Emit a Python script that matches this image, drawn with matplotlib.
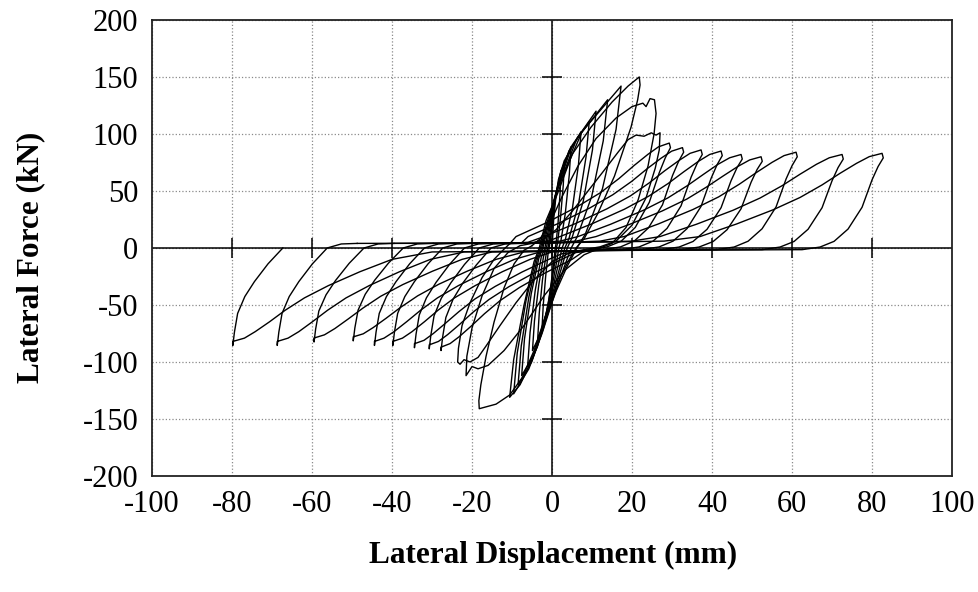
import matplotlib.pyplot as plt
import numpy as np

plt.rcParams['font.family'] = ['Liberation Serif', 'DejaVu Serif']
plt.rcParams['axes.unicode_minus'] = False

loop_01 = [(0, 0), (0.4, 25), (1.1, 50), (2.25, 68), (2.0, 48), (1.5, 22), (1.0, 4), (0.8, 0),
           (0.5, -10), (0, -25), (-0.8, -45), (-1.6, -60), (-2.5, -70), (-2.2, -50), (-1.6, -25),
           (-1.0, -5), (-0.7, 0)]
loop_02 = [(-0.7, 0), (-0.2, 14), (0.5, 35), (1.6, 60), (3.1, 77), (2.8, 55), (2.1, 26), (1.4, 5),
           (1.1, 0), (0.7, -12), (0, -28), (-1.0, -50), (-2.2, -68), (-3.6, -80), (-3.2, -57),
           (-2.4, -28), (-1.5, -6), (-1.0, 0)]
loop_03 = [(-1.0, 0), (-0.4, 15), (0.6, 40), (2.3, 68), (4.75, 89), (4.3, 64), (3.3, 30), (2.2, 6),
           (1.7, 0), (1.1, -13), (0.1, -32), (-1.3, -56), (-3.0, -76), (-4.9, -90), (-4.4, -64),
           (-3.3, -32), (-2.1, -7), (-1.4, 0)]
loop_04 = [(-1.4, 0), (-0.6, 17), (0.7, 44), (3.3, 78), (7.25, 102), (6.6, 73), (5.1, 35), (3.3, 7),
           (2.5, 0), (1.6, -14), (0.2, -35), (-1.6, -62), (-3.7, -87), (-6.1, -104), (-5.5, -74),
           (-4.2, -37), (-2.7, -8), (-1.8, 0)]
loop_05 = [(-1.8, 0), (-0.8, 18), (0.9, 47), (4.2, 85), (9.3, 111), (8.5, 80), (6.6, 38), (4.2, 8),
           (3.2, 0), (2.1, -15), (0.3, -38), (-2.0, -67), (-4.6, -94), (-7.6, -112), (-6.9, -80),
           (-5.2, -40), (-3.3, -9), (-2.3, 0)]
loop_06 = [(-2.3, 0), (-1.0, 19), (1.0, 49), (5.0, 90), (11.0, 120), (10.1, 86), (7.8, 41), (5.0, 9),
           (3.8, 0), (2.5, -16), (0.4, -40), (-2.2, -71), (-5.1, -100), (-8.5, -120), (-7.7, -86),
           (-5.8, -43), (-3.7, -10), (-2.6, 0)]
loop_07 = [(-2.6, 0), (-1.2, 20), (1.2, 50), (6.2, 96), (13.9, 130), (12.8, 94), (9.9, 45), (6.3, 10),
           (4.8, 0), (3.0, -17), (0.5, -42), (-2.5, -75), (-5.8, -106), (-9.6, -128), (-8.7, -92),
           (-6.5, -46), (-4.1, -11), (-2.9, 0)]
loop_08 = [(-2.9, 0), (-1.3, 22), (1.4, 52), (7.5, 102), (17.25, 142), (16.0, 104), (12.6, 52),
           (8.3, 12), (6.2, 0), (3.8, -16), (1.0, -38), (-1.8, -65), (-5.0, -98), (-8.0, -120),
           (-10.6, -131), (-9.6, -98), (-7.0, -50), (-4.5, -12), (-3.2, 0)]
loop_09 = [(-3.2, 0), (-1.5, 24), (1.4, 48), (5.0, 82), (9.75, 106), (15.0, 128), (19.0, 142),
           (21.8, 150), (22.0, 143), (21.4, 130), (19.75, 106), (15.6, 63), (11.4, 30), (8.0, 8),
           (6.0, 0), (4.0, -12), (1.5, -30), (-1.5, -58), (-4.5, -90), (-7.5, -114), (-10.6, -129),
           (-14.0, -137), (-18.2, -141), (-18.3, -134), (-17.8, -120), (-16.5, -95), (-14.5, -65),
           (-12.0, -35), (-9.5, -14), (-7.0, -2), (-5.0, 2)]
loop_10 = [(-5.0, 2), (-3.0, 8), (-0.5, 22), (2.5, 45), (6.5, 72), (11.0, 96), (16.0, 114),
           (20.0, 124), (22.7, 127), (23.5, 124), (24.5, 131), (25.6, 130), (26.0, 118),
           (25.5, 100), (24.0, 72), (21.5, 42), (18.5, 18), (15.0, 4), (12.0, 0), (8.0, -6),
           (3.0, -20), (-2.0, -42), (-7.0, -68), (-12.0, -90), (-16.0, -103), (-18.5, -106),
           (-20.0, -104), (-21.5, -112), (-21.3, -95), (-20.0, -70), (-17.5, -42), (-14.5, -18),
           (-11.0, -4), (-8.0, 2), (-5.0, 4)]
loop_11 = [(-5.0, 4), (-2.0, 8), (1.0, 16), (5.0, 32), (9.0, 50), (13.0, 68), (16.5, 84), (19.0, 95),
           (21.0, 99), (23.0, 98), (24.8, 101), (26.0, 99), (27.0, 101), (26.8, 86), (25.8, 70),
           (23.5, 44), (20.0, 20), (16.0, 6), (12.0, 1), (8.0, -1.5), (4.0, -5), (0.0, -12),
           (-4.5, -28), (-9.0, -48), (-13.0, -68), (-16.5, -86), (-18.5, -96), (-20.5, -100),
           (-22.0, -98), (-23.0, -102), (-23.6, -100), (-23.4, -88), (-22.5, -68), (-20.5, -48),
           (-17.5, -26), (-14.5, -10), (-12.0, -1), (-10.5, 4)]
loop_12 = [(-10.5, 4), (-9, 10), (-1.3, 22.3), (6.3, 36.2), (12.1, 48.5), (16.7, 60.8), (20.5, 72.3),
           (24.0, 82.2), (26.6, 88.7), (29.3, 92), (29.6, 88), (28.3, 79), (26.8, 66), (24.3, 40),
           (20.8, 18), (17.3, 6), (13.8, 1), (9.3, -1.5), (7.5, -4), (5, -10), (-1.55, -21.6),
           (-8.1, -34.6), (-13.0, -46.2), (-16.9, -57.7), (-20.2, -68.5), (-23.2, -77.8),
           (-25.5, -83.9), (-27.75, -87), (-27.75, -90), (-27.35, -78), (-26.55, -61),
           (-24.75, -45), (-22.35, -31), (-18.95, -15), (-15.25, 0), (-11.75, 3.5), (-7.75, 4)]
loop_13 = [(-7.75, 4), (-6, 10), (1.7, 21.7), (9.4, 35), (15.2, 46.7), (19.9, 58.4), (23.7, 69.3),
           (27.2, 78.6), (29.9, 84.9), (32.6, 88), (32.9, 84), (31.6, 75.7), (30.1, 63.4),
           (27.6, 37.8), (24.1, 17.6), (20.6, 6.2), (17.1, 0.9), (12.6, -1.5), (6, -4), (2.4, -10),
           (-4.2, -21.3), (-10.8, -34), (-15.8, -45.3), (-19.8, -56.5), (-23.1, -67), (-26.1, -76),
           (-28.4, -82), (-30.7, -85), (-30.7, -88.5), (-30.3, -76.5), (-29.5, -59.5),
           (-27.7, -44.2), (-25.3, -30.6), (-21.9, -14.5), (-18.2, 0), (-14.7, 3.5), (-10.7, 4)]
loop_14 = [(-10.7, 4), (-6, 5), (-2, 10), (5.85, 21.4), (13.7, 34.3), (19.6, 45.7), (24.3, 57.1),
           (28.2, 67.8), (31.8, 76.9), (34.5, 83), (37.25, 86), (37.55, 82), (36.25, 74),
           (34.75, 62), (32.25, 37), (28.75, 17.2), (25.25, 6), (21.75, 0.9), (17.25, -1.5),
           (8, -2.5), (2.5, -5), (-0.8, -10), (-7.5, -21.1), (-14.2, -33.7), (-19.3, -44.8),
           (-23.3, -55.9), (-26.7, -66.2), (-29.7, -75.1), (-32.0, -81), (-34.4, -84),
           (-34.4, -87.5), (-34.0, -75.6), (-33.2, -58.8), (-31.4, -43.7), (-29.0, -30.2),
           (-25.6, -14.3), (-21.9, 0), (-18.4, 3.5), (-14.4, 4)]
loop_15 = [(-14.4, 4), (-6, 4.5), (-1, 6), (2, 10), (10.05, 21.3), (18.1, 34), (24.1, 45.3),
           (29.0, 56.5), (33.0, 67), (36.6, 76), (39.4, 82), (42.25, 85), (42.55, 81), (41.25, 73),
           (39.75, 61), (37.25, 36.5), (33.75, 17), (30.25, 6), (26.75, 0.9), (22.25, -1.5),
           (10, -2), (0, -3.5), (-5.5, -10), (-12.4, -20.8), (-19.2, -33), (-24.4, -43.8),
           (-28.5, -54.6), (-31.9, -64.7), (-35.0, -73.4), (-37.4, -79.1), (-39.8, -82),
           (-39.8, -85.5), (-39.4, -73.8), (-38.6, -57.4), (-36.8, -42.6), (-34.4, -29.5),
           (-31.0, -13.9), (-27.3, 0), (-23.8, 3.5), (-19.8, 4)]
loop_16 = [(-19.8, 4), (-5, 4.5), (2, 6), (6.5, 10), (14.65, 20.8), (22.8, 33), (28.9, 43.8),
           (33.8, 54.6), (37.9, 64.7), (41.5, 73.4), (44.4, 79.1), (47.25, 82), (47.55, 78),
           (46.25, 70.5), (44.75, 59), (42.25, 35.3), (38.75, 16.4), (35.25, 5.7), (31.75, 0.8),
           (27.25, -1.5), (10, -2), (-3, -3.5), (-9.4, -10), (-16.4, -20.8), (-23.4, -33),
           (-28.65, -43.8), (-32.85, -54.6), (-36.35, -64.7), (-39.5, -73.4), (-42.0, -79.1),
           (-44.4, -82), (-44.4, -85.5), (-44.0, -73.8), (-43.2, -57.4), (-41.4, -42.6),
           (-39.0, -29.5), (-35.6, -13.9), (-31.9, 0), (-28.4, 3.5), (-24.4, 4)]
loop_17 = [(-24.4, 4), (0, 4.5), (6, 6), (11, 10), (19.25, 20.5), (27.5, 32.4), (33.7, 42.9),
           (38.6, 53.4), (42.8, 63.2), (46.5, 71.6), (49.4, 77.2), (52.25, 80), (52.55, 76),
           (51.25, 68.8), (49.75, 57.6), (47.25, 34.4), (43.75, 16), (40.25, 5.6), (36.75, 0.8),
           (32.25, -1.5), (10, -2), (-7, -3.5), (-14, -10), (-21.1, -20.2), (-28.3, -31.8),
           (-33.6, -42), (-37.9, -52.2), (-41.5, -61.7), (-44.7, -69.8), (-47.2, -75.3),
           (-49.7, -78), (-49.7, -81.5), (-49.3, -70.2), (-48.5, -54.6), (-46.7, -40.6),
           (-44.3, -28.1), (-40.9, -13.3), (-37.2, 0), (-33.7, 3.5), (-29.7, 4)]
loop_18 = [(-29.7, 4), (0, 4.5), (12, 6), (18, 10), (26.6, 21.1), (35.2, 33.7), (41.65, 44.8),
           (46.8, 55.9), (51.1, 66.2), (55.0, 75.1), (58.0, 81), (61, 84), (61.3, 80), (60, 72.2),
           (58.5, 60.5), (56, 36), (52.5, 16.8), (49, 5.9), (45.5, 0.8), (41, -1.5), (15, -2),
           (-15, -3.5), (-22.5, -10), (-29.9, -20.4), (-37.3, -32.1), (-42.85, -42.4),
           (-47.3, -52.8), (-51.0, -62.4), (-54.3, -70.7), (-56.9, -76.2), (-59.5, -79),
           (-59.5, -82.5), (-59.1, -71.1), (-58.3, -55.3), (-56.5, -41.1), (-54.1, -28.4),
           (-50.7, -13.4), (-47.0, 0), (-43.5, 3.5), (-39.5, 4)]
loop_19 = [(-39.5, 4), (0, 4.5), (20, 6), (27, 10), (36.1, 20.8), (45.2, 33), (52.0, 43.8),
           (57.5, 54.6), (62.0, 64.7), (66.1, 73.4), (69.3, 79.1), (72.5, 82), (72.8, 78),
           (71.5, 70.5), (70, 59), (67.5, 35.3), (64, 16.4), (60.5, 5.7), (57, 0.8), (52.5, -1.5),
           (20, -2), (-22, -3.5), (-30.4, -10), (-38.1, -20.8), (-45.7, -33), (-51.5, -43.8),
           (-56.1, -54.6), (-59.9, -64.7), (-63.3, -73.4), (-66.0, -79.1), (-68.7, -82),
           (-68.7, -85.5), (-68.3, -73.8), (-67.5, -57.4), (-65.7, -42.6), (-63.3, -29.5),
           (-59.9, -13.9), (-56.2, 0), (-52.7, 3.5), (-48.7, 4)]
loop_20 = [(-48.7, 4), (0, 4.5), (28, 6), (37, 10), (46.1, 21), (55.2, 33.4), (62.0, 44.3),
           (67.5, 55.3), (72.0, 65.5), (76.1, 74.2), (79.3, 80.1), (82.5, 83), (82.8, 79),
           (81.5, 71.4), (80, 59.8), (77.5, 35.7), (74, 16.6), (70.5, 5.8), (67, 0.8), (62.5, -1.5),
           (25, -2), (-30, -3.5), (-40, -10), (-48.0, -20.8), (-55.9, -33), (-61.9, -43.8),
           (-66.7, -54.6), (-70.6, -64.7), (-74.2, -73.4), (-76.9, -79.1), (-79.8, -82),
           (-79.8, -85.5), (-79.4, -73.8), (-78.6, -57.4), (-76.8, -42.6), (-74.4, -29.5),
           (-71.0, -13.9), (-67.3, 0)]

x_ticks = [-100, -80, -60, -40, -20, 0, 20, 40, 60, 80, 100]
y_ticks = [-200, -150, -100, -50, 0, 50, 100, 150, 200]

loops = [loop_01, loop_02, loop_03, loop_04, loop_05, loop_06, loop_07, loop_08, loop_09, loop_10,
         loop_11, loop_12, loop_13, loop_14, loop_15, loop_16, loop_17, loop_18, loop_19, loop_20]

fig = plt.figure(figsize=(9.79, 5.92), dpi=100)
ax = fig.add_axes([0.1553, 0.196, 0.8172, 0.7703])

for lp in loops:
    a = np.array(lp)
    ax.plot(a[:, 0], a[:, 1], color='k', lw=1.0)

# axes through the origin with cross ticks
ax.axhline(0, color='k', lw=1.1)
ax.axvline(0, color='k', lw=1.1)
ax.plot(x_ticks[1:-1], np.zeros(len(x_ticks) - 2), ls='none', marker='|', ms=14, mew=1.1, color='k')
ax.plot(np.zeros(len(y_ticks) - 2), y_ticks[1:-1], ls='none', marker='_', ms=14, mew=1.1, color='k')

ax.set_xlim(-100, 100)
ax.set_ylim(-200, 200)
ax.set_xticks(x_ticks)
ax.set_yticks(y_ticks)
ax.grid(True, color='#8a8a8a', ls=':', lw=0.9)
ax.set_axisbelow(True)
ax.tick_params(length=0, labelsize=22, pad=10)
for s in ax.spines.values():
    s.set_linewidth(1.3)
    s.set_color('#222222')

fig.text(0.565, 0.061, 'Lateral Displacement (mm)', ha='center', va='center',
         fontsize=22.5, fontweight='bold')
fig.text(0.031, 0.566, 'Lateral Force (kN)', ha='center', va='center', rotation=90,
         fontsize=22.5, fontweight='bold')

fig.savefig('out.png', dpi=100)
